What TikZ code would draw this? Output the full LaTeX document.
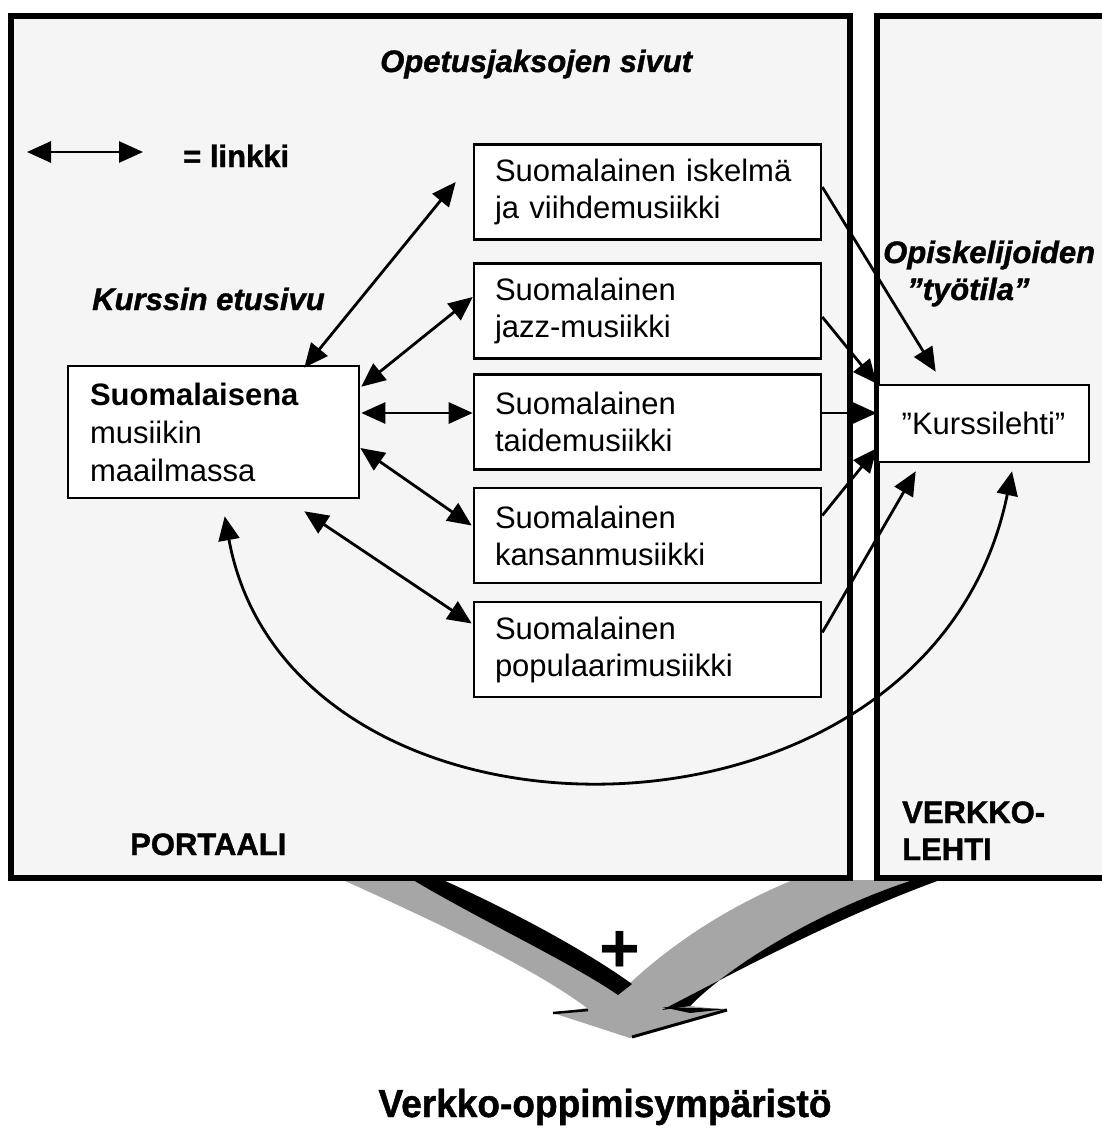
\documentclass[tikz,border=0pt]{standalone}
\usepackage{fontspec}
\setmainfont{Liberation Sans}
\newfontfamily\heavyfont{Liberation Sans}[BoldFeatures={FakeBold=1.2},
  BoldItalicFeatures={FakeBold=1.2}]
\usetikzlibrary{arrows.meta,calc}

\begin{document}
\begin{tikzpicture}[x=1pt,y=-1pt,
  panelfill/.style={fill=black!4},
  panelline/.style={line width=6pt},
  pagebox/.style={draw, line width=2.6pt, fill=white, inner ysep=0pt},
  genre/.style={pagebox, minimum width=347pt, minimum height=95pt,
    text width=305pt, inner xsep=21pt, align=left,
    font=\fontsize{31}{37}\selectfont},
  link/.style={line width=2.8pt,
    {Triangle[length=24pt,width=21pt]}-{Triangle[length=24pt,width=21pt]}},
  feed/.style={line width=2.8pt, -{Triangle[length=24pt,width=21pt]}},
  heading/.style={font=\fontsize{31}{37}\selectfont\heavyfont\bfseries\itshape,
    anchor=base west, inner sep=0pt},
  tag/.style={font=\fontsize{31}{37}\selectfont\heavyfont\bfseries,
    anchor=base west, inner sep=0pt},
  arrowgray/.style={fill=black!35},
]
\path[use as bounding box] (0,0) rectangle (1102,1129);

% --- merging arrow below the two panels ---
\fill[arrowgray] (343,880) .. controls (420,915) and (530,965) .. (587,1008)
  -- (553,1013) -- (630,1038) -- (727,1010) -- (690,1006)
  .. controls (730,965) and (820,910) .. (913,880) -- (793,880)
  .. controls (720,910) and (665,950) .. (628,985) -- (618,990)
  .. controls (570,962) and (480,920) .. (413,880) -- cycle;
% dark edges of the two bands
\fill (413,880) -- (443,880) .. controls (510,910) and (585,950) .. (632,984)
  -- (618,995) .. controls (570,962) and (480,920) .. (413,880) -- cycle;
\fill (913,880) -- (940,880) .. controls (835,918) and (730,975) .. (662,1010)
  -- (690,1006) .. controls (730,965) and (820,910) .. (913,880) -- cycle;
\fill (662,1007) -- (727,1009) -- (690,1013) -- cycle;
\draw[line width=3pt] (727,1010) -- (632,1037);
\draw[line width=2.5pt] (553,1013) -- (588,1010);
\node[font=\fontsize{70}{70}\selectfont\bfseries, inner sep=0pt] (plus) at (620,952) {+};

% --- panels ---
\fill[panelfill] (11,16) rectangle (850,878);
\draw[panelline] (11,16) rectangle (850,878);
\fill[panelfill] (877,16) rectangle (1106,878);
\draw[panelline] (1106,16) -- (877,16) -- (877,878) -- (1106,878);

% --- headings and labels ---
\node[heading] (hdA) at (380,72) {Opetusjaksojen sivut};
\node[heading] (hdB) at (92,310) {Kurssin etusivu};
\node[heading] (hdC) at (883,263) {Opiskelijoiden};
\node[heading] (hdD) at (907,300) {”työtila”};
\node[tag] (lgtext) at (183,167) {= linkki};
\node[tag] (portal) at (130,855) {PORTAALI};
\node[tag] (vl1) at (902,823) {VERKKO-};
\node[tag] (vl2) at (902,860) {LEHTI};
\node[font=\fontsize{39}{45}\selectfont\heavyfont\bfseries, anchor=base, inner sep=0pt]
  (env) at (605,1117) {\scalebox{0.95}[1]{Verkko-oppimisympäristö}};

% --- legend ---
\coordinate (lg1) at (27,152);
\coordinate (lg2) at (143,152);
\draw[link] (lg1) -- (lg2);

% --- pages ---
\node[pagebox, minimum width=291pt, minimum height=132pt, text width=247pt,
  inner xsep=22pt, align=left, font=\fontsize{31}{38}\selectfont]
  (main) at (213.5,432) {\textbf{Suomalaisena}\\musiikin\\maailmassa};
\node[genre] (b1) at (647.5,192) {Suomalainen iskelmä\\ja viihdemusiikki};
\node[genre] (b2) at (647.5,311) {Suomalainen\\jazz-musiikki};
\node[genre] (b3) at (647.5,422) {Suomalainen\\taidemusiikki};
\node[genre] (b4) at (647.5,535.5) {Suomalainen\\kansanmusiikki};
\node[genre] (b5) at (647.5,649.5) {Suomalainen\\populaarimusiikki};
\node[pagebox, minimum width=211pt, minimum height=77pt,
  font=\fontsize{31}{37}\selectfont] (K) at (983.5,423.5) {”Kurssilehti”};

% --- links between the front page and the unit pages ---
\draw[link] ($(main.north east)+(-56,3)$) -- ($(b1.west)+(-17,-10)$);
\draw[link] ($(main.north east)+(1,22)$) -- ($(b2.west)+(0,-14)$);
\draw[link] ($(main.east)+(1,-19)$) -- ($(b3.west)+(0,-9)$);
\draw[link] ($(main.east)+(0,16)$) -- ($(b4.west)+(-1,-10)$);
\draw[link] ($(main.south east)+(-56,12)$) -- ($(b5.west)+(-1,-26)$);
\draw[link] ($(main.south west)+(158,17)$) .. controls (290,873) and (930,873)
  .. ($(K.south)+(28.5,8)$);

% --- links from the unit pages to the course magazine ---
\draw[feed] ($(b1.east)+(0,-5)$) -- ($(K.north west)+(59,-12)$);
\draw[feed] ($(b2.east)+(0,6)$) -- (K.north west);
\draw[feed] ($(b3.east)+(0,-9)$) -- ($(K.west)+(0,-10.5)$);
\draw[feed] ($(b4.east)+(0,-20)$) -- ($(K.south west)+(0,-15)$);
\draw[feed] ($(b5.east)+(0,-17)$) -- ($(K.south west)+(39,8)$);
\end{tikzpicture}
\end{document}
